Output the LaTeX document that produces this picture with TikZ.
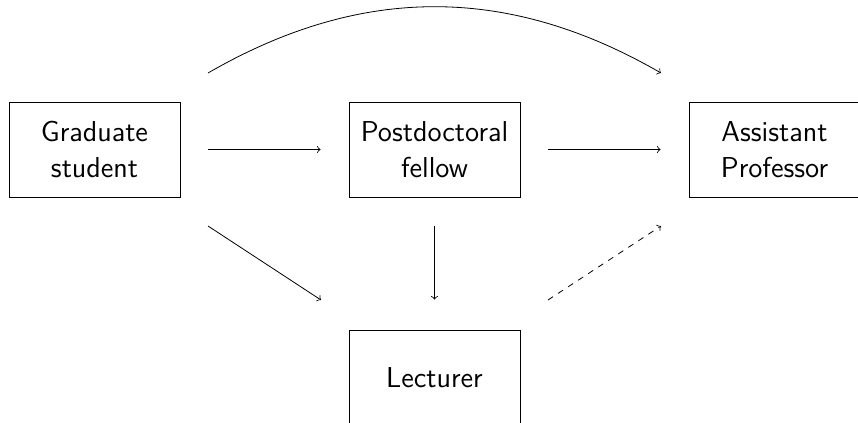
\documentclass[tikz,border=0pt]{standalone}
\begin{document}
\begin{tikzpicture}[x=0.5pt,y=-0.5pt,
  box/.style={draw,line width=0.4pt,minimum width=85.5pt,minimum height=47.5pt,
    align=center,font=\sffamily\Large,inner sep=0pt},
  arr/.style={->,line width=0.4pt}]
\useasboundingbox (0,0) rectangle (858,423);
\node[box] (g) at (94.5,149.5) {Graduate\\student};
\node[box] (p) at (434.5,149.5) {Postdoctoral\\fellow};
\node[box] (a) at (774.5,149.5) {Assistant\\Professor};
\node[box] (l) at (434.5,377.5) {Lecturer};
\coordinate (c1) at (208,73);
\coordinate (c2) at (661,73);
\coordinate (d1) at (208,226);
\coordinate (d2) at (321,300);
\coordinate (e1) at (548,300);
\coordinate (e2) at (661,226);
\draw[arr,shorten <=14pt,shorten >=14pt] (g) -- (p);
\draw[arr,shorten <=14pt,shorten >=14pt] (p) -- (a);
\draw[arr,shorten <=14.5pt,shorten >=15pt] (p) -- (l);
\draw[arr] (c1) to[bend left=30] (c2);
\draw[arr] (d1) -- (d2);
\draw[arr,dashed] (e1) -- (e2);
\end{tikzpicture}
\end{document}
